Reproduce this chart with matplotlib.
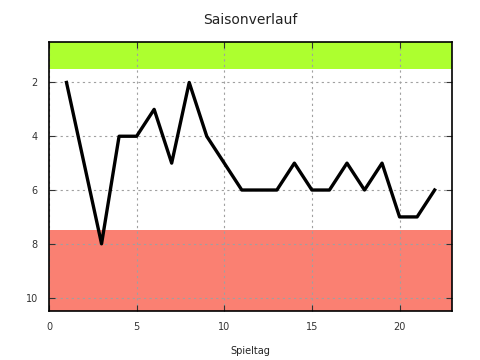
import matplotlib.pyplot as plt

# Platzierung pro Spieltag
spieltag = list(range(1, 23))
platz = [2, 5, 8, 4, 4, 3, 5, 2, 4, 5, 6, 6, 6, 5, 6, 6, 5, 6, 5, 7, 7, 6]

fig = plt.figure(figsize=(4.8, 3.6), dpi=100)
ax = fig.add_axes([0.102, 0.136, 0.840, 0.747])

# Aufstiegs- und Abstiegszone
ax.axhspan(0.5, 1.5, color="#adff2f", zorder=0, lw=0)
ax.axhspan(7.5, 10.5, color="#fa8072", zorder=0, lw=0)

ax.plot(spieltag, platz, color="black", lw=2.4, zorder=3)

ax.set_xlim(0, 23)
ax.set_ylim(10.5, 0.5)
ax.set_xticks([0, 5, 10, 15, 20])
ax.set_yticks([2, 4, 6, 8, 10])
ax.grid(True, color="#a0a0a0", linestyle=(0, (2, 3)), lw=0.8, zorder=1)
ax.set_axisbelow(False)
ax.tick_params(direction="in", top=True, right=True, labelsize=7, length=4,
               colors="#333333", pad=8)
for s in ax.spines.values():
    s.set_linewidth(1.2)
    s.set_zorder(4)

ax.set_title("Saisonverlauf", fontsize=10, color="#222222", pad=13)
ax.set_xlabel("Spieltag", fontsize=7, color="#222222", labelpad=10)

fig.savefig("out.png", dpi=100)
